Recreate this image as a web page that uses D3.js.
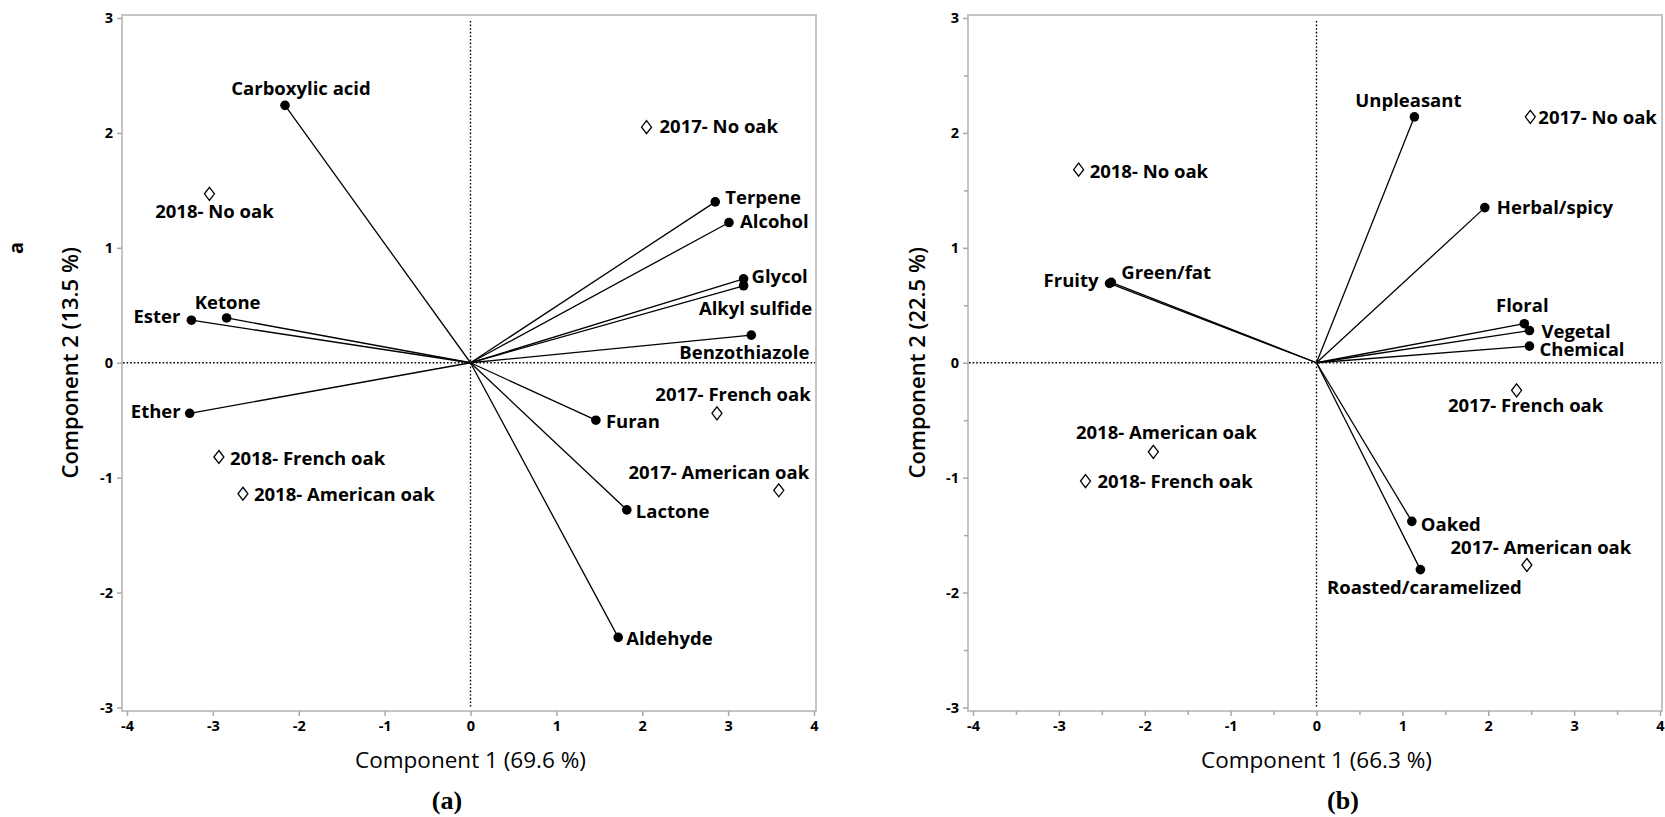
<!DOCTYPE html>
<html lang="en">
<head>
<meta charset="UTF-8">
<title>PCA biplots</title>
<script src="https://cdn.jsdelivr.net/npm/d3@7"></script>
<style>
  body { margin: 0; background: #fff; }
  svg { display: block; }
</style>
</head>
<body>
<svg width="1665" height="817"></svg>
<script>
// axis ticks
var xTicks = [-4, -3, -2, -1, 0, 1, 2, 3, 4]
var yTicks = [-3, -2, -1, 0, 1, 2, 3]

// panel (a): compound classes (vectors) and wine samples
var aVarNames = ["Carboxylic acid", "Terpene", "Alcohol", "Glycol", "Alkyl sulfide", "Benzothiazole",
                 "Ketone", "Ester", "Ether", "Furan", "Lactone", "Aldehyde"]
var aVarPC1 = [-2.16, 2.85, 3.01, 3.18, 3.18, 3.27, -2.84, -3.25, -3.27, 1.46, 1.82, 1.72]
var aVarPC2 = [2.24, 1.40, 1.22, 0.73, 0.67, 0.24, 0.39, 0.37, -0.44, -0.50, -1.28, -2.39]
var aSampleNames = ["2017- No oak", "2018- No oak", "2017- French oak", "2018- French oak",
                    "2018- American oak", "2017- American oak"]
var aSamplePC1 = [2.05, -3.04, 2.87, -2.93, -2.65, 3.59]
var aSamplePC2 = [2.05, 1.47, -0.44, -0.82, -1.14, -1.11]

// panel (b): aroma attributes (vectors) and wine samples
var bVarNames = ["Unpleasant", "Herbal/spicy", "Fruity", "Green/fat", "Floral", "Vegetal",
                 "Chemical", "Oaked", "Roasted/caramelized"]
var bVarPC1 = [1.14, 1.96, -2.41, -2.39, 2.42, 2.48, 2.48, 1.11, 1.21]
var bVarPC2 = [2.14, 1.35, 0.69, 0.70, 0.34, 0.28, 0.145, -1.38, -1.80]
var bSampleNames = ["2017- No oak", "2018- No oak", "2017- French oak", "2018- American oak",
                    "2018- French oak", "2017- American oak"]
var bSamplePC1 = [2.49, -2.77, 2.33, -1.90, -2.69, 2.45]
var bSamplePC2 = [2.14, 1.68, -0.24, -0.775, -1.03, -1.76]

// label placement: [anchor, dx, dy] in px from the point
var aLabelPos = {
  "Carboxylic acid": ["middle", 16, -10],
  "Terpene": ["start", 10, 2],
  "Alcohol": ["start", 11, 5],
  "Glycol": ["start", 8, 4],
  "Alkyl sulfide": ["middle", 12, 29],
  "Benzothiazole": ["middle", -7, 24],
  "Ketone": ["middle", 1, -9],
  "Ester": ["end", -11, 3],
  "Ether": ["end", -9, 5],
  "Furan": ["start", 10, 8],
  "Lactone": ["start", 9, 8],
  "Aldehyde": ["start", 8, 8],
  "2017- No oak": ["start", 13, 6],
  "2018- No oak": ["middle", 5, 24],
  "2017- French oak": ["middle", 16, -12],
  "2018- French oak": ["start", 11, 8],
  "2018- American oak": ["start", 11, 7],
  "2017- American oak": ["middle", -60, -11]
}
var bLabelPos = {
  "Unpleasant": ["middle", -6, -10],
  "Herbal/spicy": ["start", 12, 6],
  "Fruity": ["end", -11, 4],
  "Green/fat": ["start", 10, -3],
  "Floral": ["middle", -2, -12],
  "Vegetal": ["start", 12, 7],
  "Chemical": ["start", 10, 10],
  "Oaked": ["start", 9, 10],
  "Roasted/caramelized": ["middle", 4, 24],
  "2017- No oak": ["start", 8, 7],
  "2018- No oak": ["start", 11, 8],
  "2017- French oak": ["middle", 9, 22],
  "2018- American oak": ["middle", 13, -13],
  "2018- French oak": ["start", 12, 7],
  "2017- American oak": ["middle", 14, -11]
}

var svg = d3.select("svg")
var labelFont = "'Open Sans', 'Liberation Sans', sans-serif"
var tickFmt = function (d) { return d < 0 ? "-" + Math.abs(d) : String(d) }

function drawPanel(opt) {
  var x = d3.scaleLinear().domain([-4, 4]).range([opt.left, opt.right])
  var y = d3.scaleLinear().domain([-3, 3]).range([707.5, 18])
  var g = svg.append("g")

  // frame
  g.append("rect")
    .attr("x", opt.left - 5).attr("y", 15)
    .attr("width", opt.right - opt.left + 7).attr("height", 696)
    .attr("fill", "none").attr("stroke", "#c4c4c4").attr("stroke-width", 2)

  // axes
  g.append("g").attr("transform", "translate(0,711)")
    .call(d3.axisBottom(x).tickValues(xTicks).tickSize(5).tickPadding(5).tickFormat(tickFmt))
  g.append("g").attr("transform", "translate(" + (opt.left - 5) + ",0)")
    .call(d3.axisLeft(y).tickValues(yTicks).tickSize(5).tickPadding(4).tickFormat(tickFmt))
  if (opt.minor) {
    g.append("g").attr("transform", "translate(0,711)")
      .call(d3.axisBottom(x).tickValues(d3.range(-3.5, 4, 1)).tickSize(4).tickFormat(""))
    g.append("g").attr("transform", "translate(" + (opt.left - 5) + ",0)")
      .call(d3.axisLeft(y).tickValues(d3.range(-2.5, 3, 1)).tickSize(4).tickFormat(""))
  }
  g.selectAll(".domain").remove()
  g.selectAll(".tick line").attr("stroke", "#a8a8a8").attr("stroke-width", 1.5)
  g.selectAll(".tick text").attr("fill", "#000")
    .style("font-family", labelFont).style("font-weight", "bold").style("font-size", "14.5px")

  // zero reference lines
  g.append("line")
    .attr("x1", opt.left - 4).attr("x2", opt.right + 1)
    .attr("y1", y(0)).attr("y2", y(0))
    .attr("stroke", "#000").attr("stroke-width", 1.4).attr("stroke-dasharray", "1.6,2")
  g.append("line")
    .attr("x1", x(0)).attr("x2", x(0))
    .attr("y1", 21).attr("y2", 708)
    .attr("stroke", "#000").attr("stroke-width", 1.4).attr("stroke-dasharray", "1.6,2")

  // vectors
  var vars = opt.varNames.map(function (n, i) { return {name: n, px: opt.varPC1[i], py: opt.varPC2[i]} })
  var samples = opt.sampleNames.map(function (n, i) { return {name: n, px: opt.samplePC1[i], py: opt.samplePC2[i]} })

  g.append("g").selectAll("line").data(vars).enter().append("line")
    .attr("x1", x(0)).attr("y1", y(0))
    .attr("x2", function (d) { return x(d.px) })
    .attr("y2", function (d) { return y(d.py) })
    .attr("stroke", "#000").attr("stroke-width", 1.3)

  g.append("g").selectAll("circle").data(vars).enter().append("circle")
    .attr("cx", function (d) { return x(d.px) })
    .attr("cy", function (d) { return y(d.py) })
    .attr("r", 4.8).attr("fill", "#000")

  g.append("g").selectAll("path").data(samples).enter().append("path")
    .attr("d", "M0,-6.5L5,0L0,6.5L-5,0Z")
    .attr("transform", function (d) { return "translate(" + x(d.px) + "," + y(d.py) + ")" })
    .attr("fill", "#fff").attr("stroke", "#000").attr("stroke-width", 1.3)

  // labels
  g.append("g").selectAll("text").data(vars.concat(samples)).enter().append("text")
    .attr("x", function (d) { return x(d.px) + opt.labelPos[d.name][1] })
    .attr("y", function (d) { return y(d.py) + opt.labelPos[d.name][2] })
    .attr("text-anchor", function (d) { return opt.labelPos[d.name][0] })
    .style("font-family", labelFont).style("font-weight", "bold").style("font-size", "18.5px")
    .text(function (d) { return d.name })

  // axis titles
  g.append("text")
    .attr("x", x(0)).attr("y", 768).attr("text-anchor", "middle")
    .style("font-family", labelFont).style("font-size", "22.5px")
    .text(opt.xTitle)
  g.append("text")
    .attr("transform", "translate(" + opt.yTitleX + "," + y(0) + ") rotate(-90)")
    .attr("text-anchor", "middle")
    .style("font-family", labelFont).style("font-weight", 600).style("font-size", "22px")
    .text(opt.yTitle)
  g.append("text")
    .attr("x", opt.capX).attr("y", 809).attr("text-anchor", "middle")
    .style("font-family", "'Liberation Serif', serif").style("font-weight", "bold").style("font-size", "26px")
    .text(opt.caption)
}

drawPanel({
  left: 127, right: 814, minor: false,
  varNames: aVarNames, varPC1: aVarPC1, varPC2: aVarPC2,
  sampleNames: aSampleNames, samplePC1: aSamplePC1, samplePC2: aSamplePC2,
  labelPos: aLabelPos,
  xTitle: "Component 1  (69.6 %)", yTitle: "Component 2  (13.5 %)", yTitleX: 78,
  caption: "(a)", capX: 447
})
drawPanel({
  left: 973, right: 1660, minor: true,
  varNames: bVarNames, varPC1: bVarPC1, varPC2: bVarPC2,
  sampleNames: bSampleNames, samplePC1: bSamplePC1, samplePC2: bSamplePC2,
  labelPos: bLabelPos,
  xTitle: "Component 1  (66.3 %)", yTitle: "Component 2  (22.5 %)", yTitleX: 925,
  caption: "(b)", capX: 1343
})

// stray panel marker at far left
svg.append("text")
  .attr("transform", "translate(23,248) rotate(-90)")
  .attr("text-anchor", "middle")
  .style("font-family", labelFont).style("font-weight", "bold").style("font-size", "20px")
  .text("a")
</script>
</body>
</html>
